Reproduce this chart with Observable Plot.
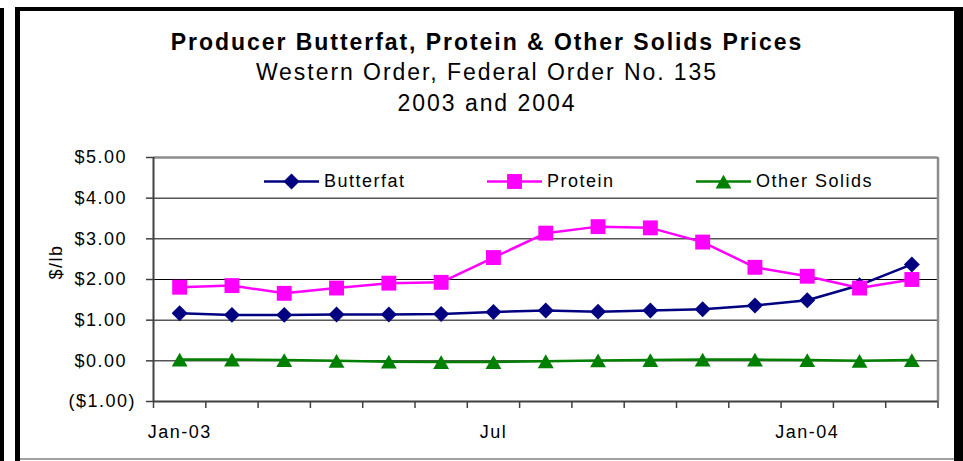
<!DOCTYPE html>
<html>
<head>
<meta charset="utf-8">
<script src="https://cdn.jsdelivr.net/npm/d3@7"></script>
<script src="https://cdn.jsdelivr.net/npm/@observablehq/plot@0.6"></script>
<style>
  html, body { margin: 0; padding: 0; background: #fff; }
  #chart { position: relative; width: 963px; height: 461px; background: #fff; overflow: hidden;
           font-family: "Liberation Sans", Arial, sans-serif; color: #000; }
  .bar { position: absolute; background: #000; }
  .ttl { position: absolute; left: 20px; width: 934px; text-align: center; white-space: nowrap;
         font-size: 23px; line-height: 23px; letter-spacing: 1.95px; }
  #plotwrap { position: absolute; left: 0; top: 130px; }
  .leg { position: absolute; top: 172px; height: 19px; display: flex; align-items: center;
         font-size: 18px; letter-spacing: 1.5px; white-space: nowrap; }
  .leg svg { margin-right: 5px; overflow: visible; }
  #ylab { position: absolute; left: 56px; top: 262px; font-size: 18px; letter-spacing: 1.5px;
          transform: translate(-50%, -50%) rotate(-90deg); white-space: nowrap; }
</style>
</head>
<body>
<div id="chart">
  <div class="bar" style="left:0;top:8px;width:4px;height:453px"></div>
  <div class="bar" style="left:15px;top:7px;width:5px;height:454px"></div>
  <div class="bar" style="left:15px;top:7px;width:948px;height:4px"></div>
  <div class="bar" style="left:954px;top:7px;width:9px;height:454px"></div>
  <div style="position:absolute;left:20px;top:458px;width:934px;height:2px;background:#a0a0a0"></div>
  <div class="ttl" style="top:30.5px;font-weight:bold;">Producer Butterfat, Protein &amp; Other Solids Prices</div>
  <div class="ttl" style="top:61px;">Western Order, Federal Order No. 135</div>
  <div class="ttl" style="top:92px;">2003 and 2004</div>
  <div id="plotwrap"></div>
  <div id="legend"></div>
  <div id="ylab">$/lb</div>
</div>
<script>
// ---- data ----
const months = ["Jan-03","Feb-03","Mar-03","Apr-03","May-03","Jun-03","Jul-03","Aug-03",
                "Sep-03","Oct-03","Nov-03","Dec-03","Jan-04","Feb-04","Mar-04"];
const xLabelIdx = [0, 6, 12];
const xLabels = ["Jan-03", "Jul", "Jan-04"];
const yTicksPos = [0, 1, 2, 3, 4, 5];
const yTicksNeg = [-1];
const gridTicks = [0, 1, 2, 3, 4];
const butterfat   = [1.17, 1.13, 1.13, 1.14, 1.14, 1.15, 1.20, 1.24, 1.21, 1.24, 1.27, 1.36, 1.49, 1.86, 2.37];
const protein     = [1.81, 1.85, 1.66, 1.79, 1.91, 1.93, 2.54, 3.14, 3.30, 3.27, 2.92, 2.30, 2.08, 1.79, 2.00];
const otherSolids = [0.03, 0.03, 0.02, 0.00, -0.02, -0.03, -0.03, -0.01, 0.01, 0.02, 0.03, 0.03, 0.02, 0.00, 0.02];
const seriesNames = ["Butterfat", "Protein", "Other Solids"];
const seriesColors = ["#000080", "#ff00ff", "#008000"];

// ---- styling per series ----
const symbolOpts = [
  {symbol: "diamond2", r: 7.2, dy: 0, d3sym: d3.symbolDiamond2},
  {symbol: "square",   r: 8.4, dy: 0, d3sym: d3.symbolSquare},
  {symbol: "triangle", r: 5.9, dy: 2.3, d3sym: d3.symbolTriangle}
];
const seriesValues = [butterfat, protein, otherSolids];
const series = seriesNames.map((name, k) => ({
  name, color: seriesColors[k], ...symbolOpts[k],
  rows: seriesValues[k].map((v, i) => ({i, v, name}))
}));

const bounds = months.map((_, i) => i - 0.5).concat([months.length - 0.5]);
const money = d => "$" + Math.abs(d).toFixed(2);

const plot = Plot.plot({
  width: 963, height: 331,
  marginTop: 27, marginBottom: 60, marginLeft: 153, marginRight: 25.5,
  style: {fontFamily: "'Liberation Sans', Arial, sans-serif", fontSize: "18px", letterSpacing: "1.5px",
          color: "#000", background: "transparent", overflow: "visible"},
  x: {domain: [-0.5, months.length - 0.5], label: null},
  y: {domain: [-1, 5], label: null},
  marks: [
    Plot.gridY({ticks: gridTicks, stroke: "#000", strokeOpacity: 1, strokeWidth: 1}),
    Plot.ruleY([5], {stroke: "#8c8c8c", strokeWidth: 2.5}),
    Plot.ruleX([months.length - 0.5], {stroke: "#8c8c8c", strokeWidth: 2.5}),
    Plot.ruleX([-0.5], {stroke: "#404040", strokeWidth: 2}),
    Plot.ruleY([-1], {stroke: "#404040", strokeWidth: 2}),
    Plot.axisX({ticks: bounds, tickFormat: () => "", tickSize: 7, stroke: "#404040", strokeWidth: 1.5}),
    Plot.axisX({ticks: xLabelIdx, tickFormat: d => xLabels[xLabelIdx.indexOf(d)], tickSize: 0, tickPadding: 24, fill: "#000"}),
    Plot.axisY({ticks: yTicksPos, tickFormat: d => money(d), tickSize: 7, tickPadding: 19.5, stroke: "#404040", strokeWidth: 1.5, fill: "#000"}),
    Plot.axisY({ticks: yTicksNeg, tickFormat: d => "(" + money(d) + ")", tickSize: 7, tickPadding: 10.5, stroke: "#404040", strokeWidth: 1.5, fill: "#000"}),
    ...series.map(s => Plot.line(s.rows, {x: "i", y: "v", stroke: s.color, strokeWidth: 2.5})),
    ...series.map(s => Plot.dot(s.rows, {x: "i", y: "v", symbol: s.symbol, r: s.r, dy: s.dy, fill: s.color, stroke: "none"}))
  ]
});
document.getElementById("plotwrap").appendChild(plot);

// ---- legend ----
const legendLeft = [264, 487, 696];
const legend = document.getElementById("legend");
series.forEach((s, k) => {
  const item = document.createElement("div");
  item.className = "leg";
  item.style.left = legendLeft[k] + "px";
  const size = Math.PI * s.r * s.r;
  const path = d3.symbol(s.d3sym, size)();
  item.innerHTML =
    `<svg width="55" height="19" viewBox="0 0 55 19">
       <line x1="0" x2="55" y1="9.5" y2="9.5" stroke="${s.color}" stroke-width="2.5"/>
       <path d="${path}" transform="translate(27.5,${9.5 + s.dy})" fill="${s.color}"/>
     </svg><span>${s.name}</span>`;
  legend.appendChild(item);
});
</script>
</body>
</html>
